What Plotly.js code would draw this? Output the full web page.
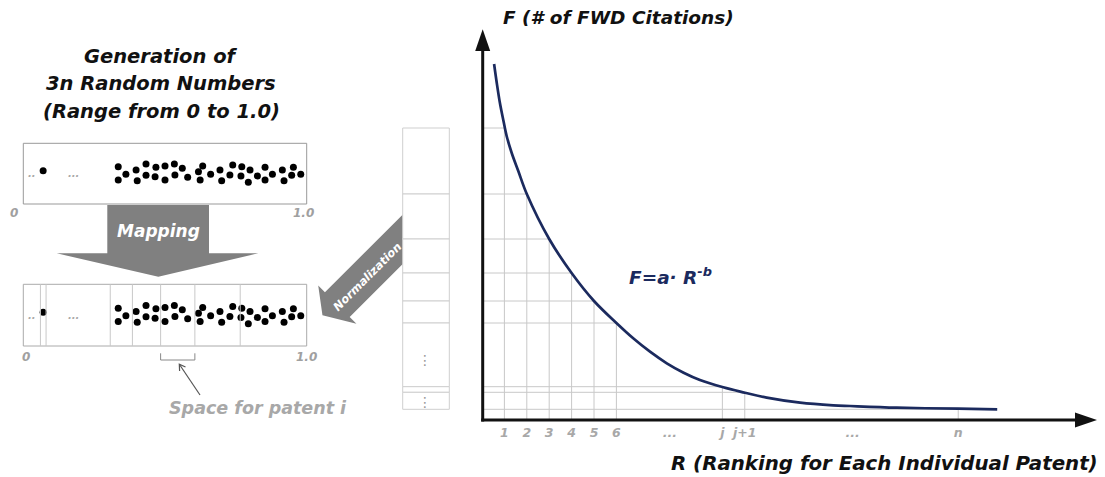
<!DOCTYPE html>
<html>
<head>
<meta charset="utf-8">
<script src="https://cdn.plot.ly/plotly-3.0.1.min.js"></script>
<style>html,body{margin:0;padding:0;background:#fff;}#chart{width:1105px;height:477px;}</style>
</head>
<body>
<div id="chart"></div>
<script>
// ---------- data ----------
// ranking axis tick labels and their positions (rank units)
const rankLabels = ['1', '2', '3', '4', '5', '6', '...', 'j', 'j+1', '...', 'n'];
const rankPos    = [1, 2, 3, 4, 5, 6, 8.39, 10.73, 11.73, 16.55, 21.26];

// ranks that have grid lines and the F value of the curve there
const gridRank = [1, 2, 3, 4, 5, 6, 10.73, 11.73, 21.26];
const gridF    = [292, 226, 181, 147, 119, 97, 33.3, 27.7, 10.7];

// the F = a * R^-b curve (rank, F)
const curveR = [0.54, 0.66, 0.8, 0.95, 1.1, 1.33, 1.62, 2, 3, 4, 5, 6, 6.75, 7.5, 8.25, 9, 9.73, 10.77, 11.74, 12.71, 14.2, 15.68, 16.43, 18.51, 21.26, 23.0];
const curveF = [356, 337, 317, 300, 284, 266.7, 249, 226, 181, 147, 119, 97, 81.7, 68.3, 56.7, 47.3, 40, 32.7, 27.3, 22.3, 17.3, 14.7, 14, 12.3, 11.3, 10.7];

// random numbers (0..1) and their vertical jitter inside the boxes
const dotX = [0.335, 0.335, 0.362, 0.398, 0.402, 0.433, 0.433, 0.468, 0.465, 0.5, 0.5, 0.533, 0.535, 0.561, 0.58, 0.618, 0.633, 0.624, 0.661, 0.694, 0.7, 0.729, 0.739, 0.771, 0.768, 0.8, 0.794, 0.826, 0.853, 0.853, 0.879, 0.914, 0.92, 0.953, 0.947, 0.979];
const dotY = [7, -6.3, -0.6, 3.7, -7, 9.7, -1.6, 6.4, -3, 7.7, -6.3, 9.7, -1.3, 5.4, -3.6, 2, 7.7, -6.3, -0.6, 3.7, -7, -1.3, 8.7, 7, -2.3, 3.7, -8.6, -2.3, 6.4, -6.3, -0.6, 3.7, -7, 6.4, -1.6, -0.6];
const bigDotX = [0.07];
const bigDotY = [3];

// ---------- helpers ----------
const W = 1105, H = 477;
const px = x => x / W;
const py = y => 1 - y / H;
function poly(pts) {
  return 'M ' + pts.map(p => px(p[0]).toFixed(5) + ',' + py(p[1]).toFixed(5)).join(' L ') + ' Z';
}
const FONT = 'DejaVu Sans, Verdana, sans-serif';
const NAVY = '#1b2a5e';
const GRID = '#c8c8c8';

// ---------- traces ----------
const gx = [], gy = [];
gridRank.forEach((r, i) => { gx.push(0, r, r, null); gy.push(gridF[i], gridF[i], 0, null); });

const traces = [
  {x: gx, y: gy, mode: 'lines', line: {color: GRID, width: 1}, hoverinfo: 'skip', cliponaxis: false},
  {x: curveR, y: curveF, mode: 'lines', line: {color: NAVY, width: 2.7, shape: 'spline', smoothing: 1}, hoverinfo: 'skip', cliponaxis: false},
  {x: dotX, y: dotY, xaxis: 'x2', yaxis: 'y2', mode: 'markers', marker: {color: '#000', size: 7}, cliponaxis: false},
  {x: bigDotX, y: bigDotY, xaxis: 'x2', yaxis: 'y2', mode: 'markers', marker: {color: '#000', size: 7}, cliponaxis: false},
  {x: dotX, y: dotY, xaxis: 'x3', yaxis: 'y3', mode: 'markers', marker: {color: '#000', size: 7}, cliponaxis: false},
  {x: bigDotX, y: bigDotY, xaxis: 'x3', yaxis: 'y3', mode: 'markers', marker: {color: '#000', size: 7}, cliponaxis: false}
];

// ---------- shapes ----------
const shapes = [];
// boxes
shapes.push({type: 'rect', xref: 'x2 domain', yref: 'y2 domain', x0: 0, x1: 1, y0: 0, y1: 1, line: {color: '#999', width: 1}});
shapes.push({type: 'rect', xref: 'x3 domain', yref: 'y3 domain', x0: 0, x1: 1, y0: 0, y1: 1, line: {color: '#aaa', width: 1}});
// dividers in second box: normalised F of each rank
const F1 = gridF[0], Fn = gridF[gridF.length - 1];
const norm = gridF.map(f => (f - Fn) / (F1 - Fn));
norm.slice(1, norm.length - 1).forEach(d => {
  shapes.push({type: 'line', xref: 'x3', yref: 'y3 domain', x0: d, x1: d, y0: 0, y1: 1, line: {color: GRID, width: 1}});
});
// bracket under the space of patent i (rank 4 segment)
const bx = v => (px(23.3) + v * (px(306.7) - px(23.3))).toFixed(5);
const bL = norm[3], bR = norm[2];
shapes.push({type: 'path', xref: 'paper', yref: 'paper',
  path: `M ${bx(bL)},${py(353.3)} L ${bx(bL)},${py(360)} L ${bx(bR)},${py(360)} L ${bx(bR)},${py(353.3)}`,
  line: {color: '#888', width: 1}});
// small pointer arrow
shapes.push({type: 'line', xref: 'paper', yref: 'paper', x0: px(200), y0: py(395), x1: px(179.5), y1: py(364.5), line: {color: '#555', width: 1.2}});
shapes.push({type: 'path', xref: 'paper', yref: 'paper', path: `M ${px(185.5)},${py(367)} L ${px(179.3)},${py(364.2)} L ${px(179.6)},${py(371)}`, line: {color: '#555', width: 1.2}});

// mapping arrow
shapes.push({type: 'path', xref: 'paper', yref: 'paper', layer: 'below',
  path: poly([[107.3, 205], [209, 205], [209, 253.3], [258.3, 253.3], [158.3, 276.7], [56.7, 253.3], [107.3, 253.3]]),
  fillcolor: '#808080', line: {width: 0}});

// normalization arrow
(function () {
  const c0 = [396, 246], d = [-0.7071, 0.7071], n = [0.7071, 0.7071];
  const P = (t, s) => [c0[0] + d[0] * t + n[0] * s, c0[1] + d[1] * t + n[1] * s];
  const pts = [P(-30, -17.5), P(83, -17.5), P(83, -27), P(101, -3), P(83, 27), P(83, 17.5), P(-30, 17.5)];
  shapes.push({type: 'path', xref: 'paper', yref: 'paper', path: poly(pts), fillcolor: '#808080', line: {width: 0}});
})();

// normalised column (same F values as the chart)
for (let i = 0; i < gridF.length - 1; i++) {
  shapes.push({type: 'rect', xref: 'paper', yref: 'y', x0: px(402.7), x1: px(449.3), y0: gridF[i], y1: gridF[i + 1],
    fillcolor: '#fff', line: {color: '#cfcfcf', width: 1}});
}

// axes with arrow heads
shapes.push({type: 'line', xref: 'paper', yref: 'paper', x0: px(482.7), x1: px(482.7), y0: py(421.5), y1: py(48), line: {color: '#111', width: 3}});
shapes.push({type: 'line', xref: 'paper', yref: 'paper', x0: px(481.2), x1: px(1077), y0: py(420), y1: py(420), line: {color: '#111', width: 3}});
shapes.push({type: 'path', xref: 'paper', yref: 'paper', path: poly([[482.7, 29.3], [490.2, 51], [475.2, 51]]), fillcolor: '#111', line: {width: 0}});
shapes.push({type: 'path', xref: 'paper', yref: 'paper', path: poly([[1097, 420], [1075, 412.5], [1075, 427.5]]), fillcolor: '#111', line: {width: 0}});

// ---------- annotations ----------
const A = (text, x, y, size, color, extra) => Object.assign({text, x: px(x), y: py(y), xref: 'paper', yref: 'paper', showarrow: false,
  xanchor: 'center', yanchor: 'middle', font: {family: FONT, size, color, weight: 'bold', style: 'italic'}}, extra || {});
const annotations = [
  A('Generation of', 161, 56, 19.5, '#111'),
  A('3n Random Numbers', 161, 84, 19.5, '#111'),
  A('(Range from 0 to 1.0)', 161, 112, 19.5, '#111'),
  A('0', 14, 213, 12, '#a0a0a0'),
  A('1.0', 303, 213, 12, '#a0a0a0'),
  A('0', 25.5, 357, 12, '#a0a0a0'),
  A('1.0', 306, 357, 12, '#a0a0a0'),
  A('Mapping', 158, 231, 17, '#fff'),
  A('Normalization', 367, 277, 11.5, '#fff', {textangle: -45}),
  A('Space for patent i', 258, 408, 17.5, '#a8a8a8'),
  A('F (# of FWD Citations)', 618, 18, 18.5, '#111'),
  A('R (Ranking for Each Individual Patent)', 884, 463, 19.8, '#111'),
  A('F=a· R<sup>-b</sup>', 670, 276, 18.5, NAVY),
  A('⋮', 425, 360, 14, '#999', {font: {family: FONT, size: 14, color: '#999'}}),
  A('⋮', 425, 402, 14, '#999', {font: {family: FONT, size: 14, color: '#999'}}),
  // ellipses inside the boxes
  Object.assign(A('..', 0, 0, 10, '#aaa'), {xref: 'x2', yref: 'y2', x: 0.03, y: 0}),
  Object.assign(A('...', 0, 0, 10, '#aaa'), {xref: 'x2', yref: 'y2', x: 0.176, y: 0}),
  Object.assign(A('..', 0, 0, 10, '#aaa'), {xref: 'x3', yref: 'y3', x: 0.03, y: 0}),
  Object.assign(A('...', 0, 0, 10, '#aaa'), {xref: 'x3', yref: 'y3', x: 0.176, y: 0})
];

// ---------- layout ----------
const layout = {
  width: W, height: H, margin: {l: 0, r: 0, t: 0, b: 0},
  paper_bgcolor: '#fff', plot_bgcolor: 'rgba(0,0,0,0)', showlegend: false,
  xaxis: {domain: [px(482), px(1097)], range: [0, 27.455], showgrid: false, zeroline: false, showline: false,
    tickmode: 'array', tickvals: rankPos, ticktext: rankLabels, ticks: '', ticklen: 0, ticklabelstandoff: 3,
    tickfont: {family: FONT, size: 12.5, color: '#a8a8a8', weight: 'bold', style: 'italic'}, fixedrange: true, anchor: 'y'},
  yaxis: {domain: [py(420), py(30)], range: [0, 390], visible: false, fixedrange: true, anchor: 'x'},
  xaxis2: {domain: [px(23.3), px(306.7)], range: [0, 1], visible: false, anchor: 'y2'},
  yaxis2: {domain: [py(204), py(143.3)], range: [-30.35, 30.35], visible: false, anchor: 'x2'},
  xaxis3: {domain: [px(23.3), px(306.7)], range: [0, 1], visible: false, anchor: 'y3'},
  yaxis3: {domain: [py(346), py(284.3)], range: [-30.85, 30.85], visible: false, anchor: 'x3'},
  shapes, annotations
};

Plotly.newPlot('chart', traces, layout, {staticPlot: true, displayModeBar: false});
</script>
</body>
</html>
